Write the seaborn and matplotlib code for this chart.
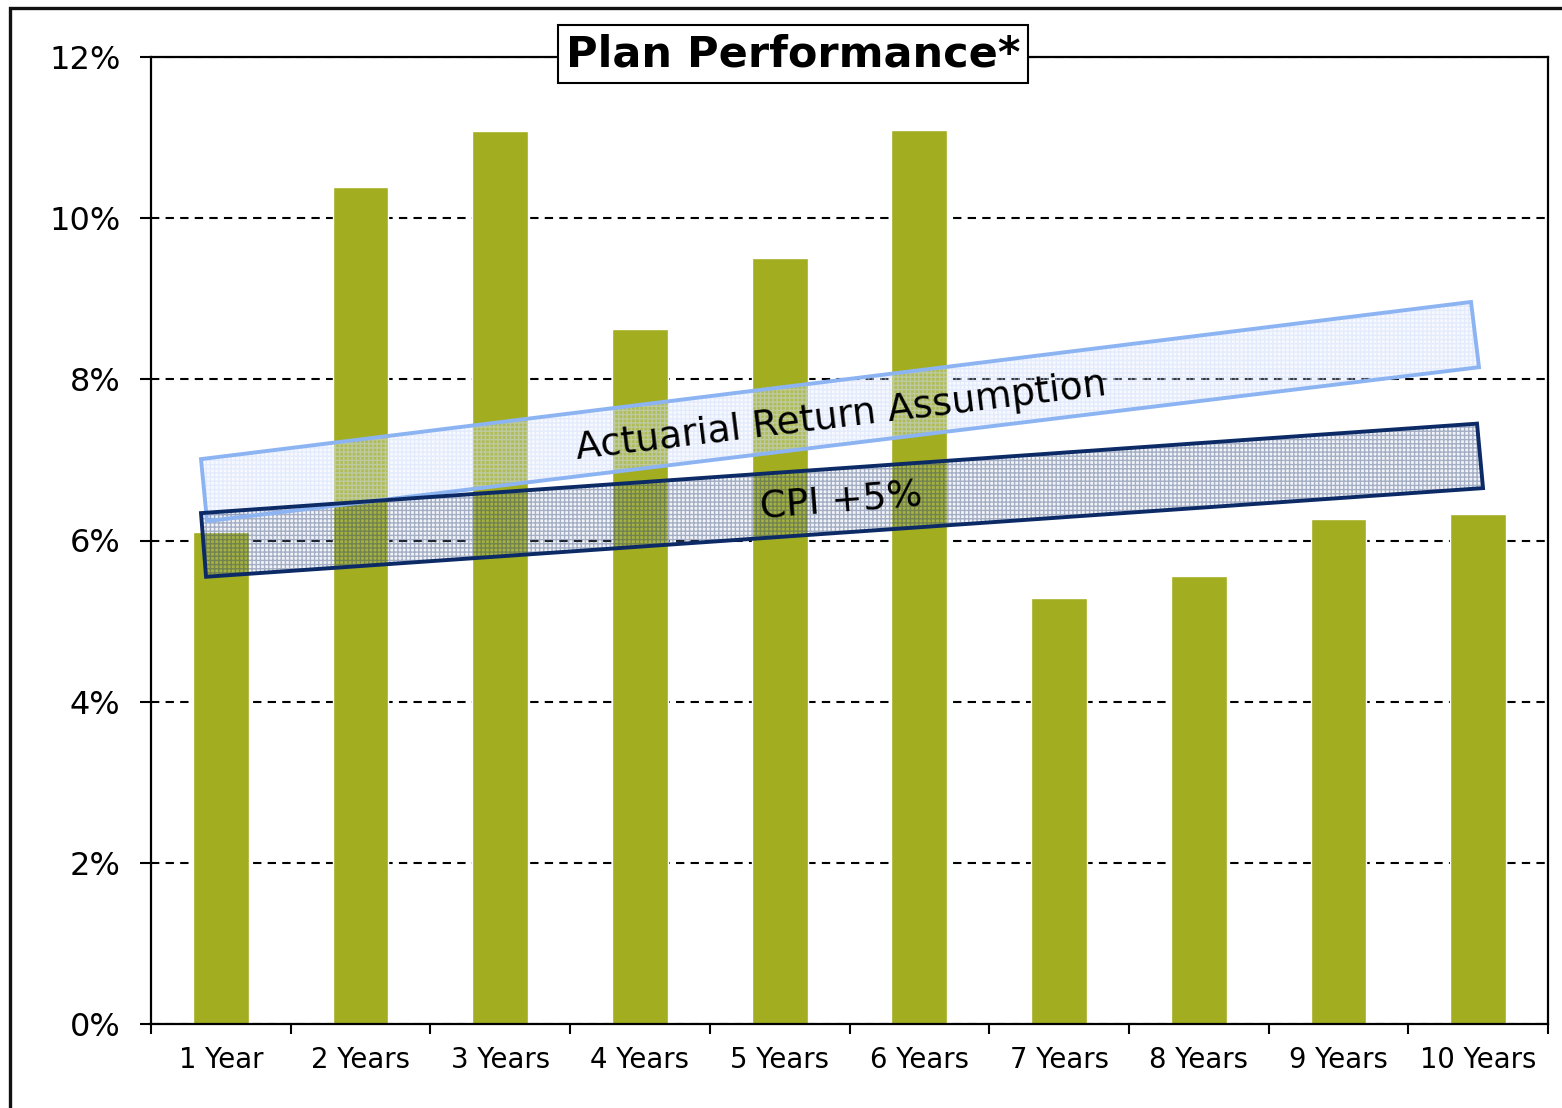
"""
plot.py - Plan Performance* (barras por horizonte, com faixas de referência)
"""

import numpy as np
import pandas as pd
import matplotlib
matplotlib.use('Agg')
import matplotlib.pyplot as plt
import seaborn as sns
from matplotlib.patches import Polygon, Rectangle
from matplotlib.ticker import FuncFormatter, MultipleLocator


# ──────────────────────────────────────────────────────────────────────────────
# Dados
# ──────────────────────────────────────────────────────────────────────────────

periodos = ['1 Year', '2 Years', '3 Years', '4 Years', '5 Years',
            '6 Years', '7 Years', '8 Years', '9 Years', '10 Years']
retornos = [6.10, 10.39, 11.08, 8.62, 9.51, 11.09, 5.29, 5.56, 6.27, 6.33]

# faixas inclinadas (cantos: sup-esq, sup-dir, inf-dir, inf-esq), em % e posição de categoria
atuarial_x = [-0.142, 8.949, 9.006, -0.099]
atuarial_y = [7.01, 8.96, 8.15, 6.24]
cpi_x = [-0.142, 8.992, 9.035, -0.106]
cpi_y = [6.34, 7.45, 6.65, 5.55]

titulo = 'Plan Performance*'
rotulo_atuarial = 'Actuarial Return Assumption'
rotulo_cpi = 'CPI +5%'

COR_BARRA = '#a2ad1f'
COR_ATUARIAL = '#8db4f2'
COR_CPI = '#0c2a66'

# ──────────────────────────────────────────────────────────────────────────────
# Figura
# ──────────────────────────────────────────────────────────────────────────────

sns.set_style('white')
plt.rcParams['font.family'] = ['DejaVu Sans']
plt.rcParams['text.color'] = 'black'
plt.rcParams['xtick.color'] = 'black'
plt.rcParams['ytick.color'] = 'black'
plt.rcParams['hatch.linewidth'] = 1.0

fig = plt.figure(figsize=(15.62, 11.08), dpi=100)
ax = fig.add_axes([151 / 1562, 84 / 1108, 1397 / 1562, 967 / 1108])

df = pd.DataFrame({'periodo': periodos, 'retorno': retornos})
sns.barplot(data=df, x='periodo', y='retorno', color=COR_BARRA, saturation=1,
            width=0.4, ax=ax, zorder=2)

ax.set_xlim(-0.5, len(periodos) - 0.5)
ax.set_ylim(0, 12)
ax.set_xlabel('')
ax.set_ylabel('')

# grade tracejada
ax.yaxis.set_major_locator(MultipleLocator(2))
ax.yaxis.set_major_formatter(FuncFormatter(lambda v, _: f'{v:.0f}%'))
ax.grid(axis='y', color='black', linestyle=(0, (4, 3)), linewidth=1.5, zorder=0)
ax.set_axisbelow(True)

# ticks
ax.set_xticks(np.arange(len(periodos)), periodos)
ax.set_xticks(np.arange(len(periodos) + 1) - 0.5, minor=True)
ax.tick_params(axis='x', which='major', length=0, pad=16, labelsize=19.8,
               labelcolor='black')
ax.tick_params(axis='x', which='minor', length=7, width=1.5, direction='out', bottom=True)
ax.tick_params(axis='y', which='major', length=8, width=1.5, direction='out',
               left=True, pad=14, labelsize=23, labelcolor='black')

for lado in ['left', 'right', 'top', 'bottom']:
    ax.spines[lado].set_visible(True)
    ax.spines[lado].set_color('black')
    ax.spines[lado].set_linewidth(1.6)

# faixas de referência: trama quadriculada semitransparente + contorno
def faixa(xs, ys, face, trama, borda):
    cantos = np.column_stack([xs, ys])
    ax.add_patch(Polygon(cantos, closed=True, facecolor=face,
                         edgecolor='none', zorder=3))
    ax.add_patch(Polygon(cantos, closed=True, facecolor='none', hatch='++++',
                         edgecolor=trama, linewidth=0, zorder=3))
    ax.add_patch(Polygon(cantos, closed=True, facecolor='none',
                         edgecolor=borda, linewidth=2.8, zorder=4))

faixa(atuarial_x, atuarial_y, (0.88, 0.92, 0.99, 0.25), (0.80, 0.86, 0.98, 0.45), COR_ATUARIAL)
faixa(cpi_x, cpi_y, (0.72, 0.77, 0.86, 0.18), (0.10, 0.20, 0.42, 0.36), COR_CPI)

ax.text(4.44, 7.53, rotulo_atuarial, fontsize=27, rotation=6.9, ha='center',
        va='center', rotation_mode='anchor', color='black', zorder=5)
ax.text(4.44, 6.48, rotulo_cpi, fontsize=27, rotation=4.5, ha='center',
        va='center', rotation_mode='anchor', color='black', zorder=5)

# título em caixa sobre a borda superior
ax.text(0.4596, 1.003, titulo, transform=ax.transAxes, fontsize=31,
        fontweight='bold', ha='center', va='center', color='black', zorder=6,
        bbox=dict(boxstyle='square,pad=0.18', facecolor='white',
                  edgecolor='black', linewidth=1.5))

# moldura externa (cortada à direita e embaixo)
fig.add_artist(Rectangle((9.5 / 1562, -0.5), 2, 0.5 + 1 - 7.5 / 1108,
                         transform=fig.transFigure, fill=False,
                         edgecolor='#111111', linewidth=2.4))

plt.savefig('out.png', dpi=100)
